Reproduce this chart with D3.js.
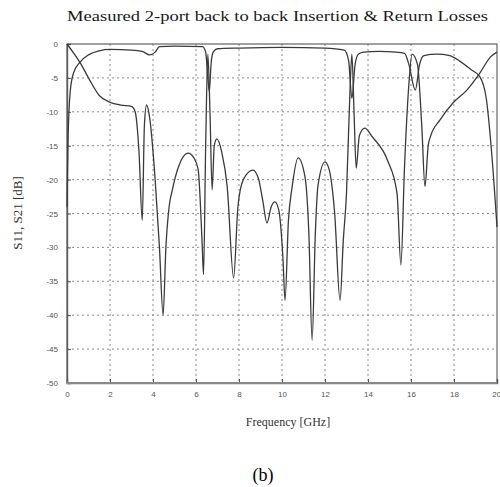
<!DOCTYPE html>
<html>
<head>
<meta charset="utf-8">
<script src="https://cdn.jsdelivr.net/npm/d3@7"></script>
<style>
  body { margin: 0; background: #fff; }
</style>
</head>
<body>
<div id="chart"></div>
<script>
const xTicks = [0, 2, 4, 6, 8, 10, 12, 14, 16, 18, 20];
const yTicks = [0, -5, -10, -15, -20, -25, -30, -35, -40, -45, -50];

// insertion loss (upper trace)
const s21Freq = [0, 0.05, 0.15, 0.3, 0.6, 1.0, 1.5, 2.0, 3.0, 3.5, 3.85, 4.1, 4.3, 5.0, 6.3, 6.45, 6.55, 6.62, 6.7, 6.8, 7.0, 8.0, 10.0, 12.0, 12.9, 13.1, 13.25, 13.4, 13.55, 13.8, 14.5, 15.3, 15.7, 15.9, 16.2, 16.4, 16.6, 17.2, 17.8, 18.3, 18.8, 19.2, 19.5, 19.75, 20];
const s21Db = [-24, -14, -7, -4.3, -2.7, -1.6, -1.0, -0.8, -0.9, -1.1, -1.6, -1.2, -0.4, -0.3, -0.4, -1.2, -5, -7, -3, -1.2, -0.7, -0.6, -0.5, -0.6, -0.9, -2.5, -8, -3, -1.5, -1.2, -1.1, -1.2, -1.4, -3, -6.8, -3, -1.7, -1.5, -1.7, -2.6, -3.8, -4.8, -8, -16, -27];

// return loss (lower trace)
const s11Freq = [0, 0.3, 0.6, 1.0, 1.5, 2.0, 2.5, 3.0, 3.17, 3.35, 3.5, 3.6, 3.7, 3.85, 4.1, 4.3, 4.47, 4.6, 4.75, 4.9, 5.2, 5.63, 5.9, 6.1, 6.28, 6.35, 6.45, 6.55, 6.65, 6.75, 6.85, 6.97, 7.2, 7.45, 7.75, 7.95, 8.2, 8.65, 8.9, 9.1, 9.3, 9.5, 9.67, 9.85, 10.05, 10.14, 10.3, 10.47, 10.75, 11.07, 11.25, 11.4, 11.55, 11.67, 12.0, 12.2, 12.45, 12.7, 12.85, 13.0, 13.15, 13.25, 13.35, 13.45, 13.6, 13.85, 14.2, 14.9, 15.35, 15.53, 15.7, 15.9, 16.05, 16.3, 16.5, 16.65, 16.8, 16.9, 17.35, 17.95, 18.6, 19.2, 19.7, 20];
const s11Db = [0, -1.3, -2.7, -5, -7.6, -8.6, -9.0, -9.2, -10, -16, -26, -12, -9, -11, -20, -30, -40, -30, -24, -21.5, -18, -16.1, -16.8, -18.5, -29, -34, -15, -1.5, -10, -21.5, -15, -14, -16, -21, -34.5, -24, -20, -18.6, -19.8, -23, -26.4, -24, -23.3, -24.5, -32, -37.8, -26, -21.1, -16.8, -19.6, -28, -43.7, -28, -21, -17.4, -18.6, -25, -37.8, -29, -22, -8, -1.5, -10, -18.3, -13.5, -12.4, -13.7, -17.1, -22, -32.6, -18, -6, -1.5, -3, -12, -21, -15, -13.7, -11.2, -8.7, -6.8, -4.3, -1.9, -1.2];

const titleText = 'Measured 2-port back to back Insertion & Return Losses';
const xLabel = 'Frequency [GHz]';
const yLabel = 'S11, S21 [dB]';
const caption = '(b)';

const W = 500, H = 487;
const plotL = 67, plotR = 497, plotT = 44, plotB = 383;
const serif = '"Liberation Serif", "DejaVu Serif", serif';
const sans = '"Liberation Sans", Arial, sans-serif';

const x = d3.scaleLinear().domain([0, 20]).range([plotL, plotR]);
const y = d3.scaleLinear().domain([-50, 0]).range([plotB, plotT]);

const svg = d3.select('#chart').append('svg')
    .attr('width', W)
    .attr('height', H)
    .style('background', '#fff');

// dotted grid
svg.append('g')
    .attr('stroke', '#8a8a8a')
    .attr('stroke-width', 1)
    .attr('stroke-dasharray', '2,3')
    .selectAll('line')
    .data(xTicks.slice(1, -1))
    .join('line')
    .attr('x1', d => x(d)).attr('x2', d => x(d))
    .attr('y1', plotT).attr('y2', plotB);

svg.append('g')
    .attr('stroke', '#8a8a8a')
    .attr('stroke-width', 1)
    .attr('stroke-dasharray', '2,3')
    .selectAll('line')
    .data(yTicks.slice(1, -1))
    .join('line')
    .attr('x1', plotL).attr('x2', plotR)
    .attr('y1', d => y(d)).attr('y2', d => y(d));

// axes, ticks pointing inward like matlab
const xAxis = svg.append('g')
    .attr('transform', `translate(0,${plotB})`)
    .call(d3.axisBottom(x).tickValues(xTicks).tickSize(-4).tickPadding(8).tickFormat(d => String(d)));
const yAxis = svg.append('g')
    .attr('transform', `translate(${plotL},0)`)
    .call(d3.axisLeft(y).tickValues(yTicks).tickSize(-4).tickPadding(9).tickFormat(d => String(d)));

for (const ax of [xAxis, yAxis]) {
    ax.select('.domain').attr('stroke', '#777').attr('stroke-width', 1.5);
    ax.selectAll('.tick line').attr('stroke', '#555');
    ax.selectAll('.tick text')
        .attr('fill', '#555')
        .style('font', `8px ${sans}`);
}
// last x label sits on the right edge of the page, keep it inside
xAxis.selectAll('.tick text')
    .filter(d => d === 20)
    .attr('text-anchor', 'end')
    .attr('dx', '0.45em');

// frame
svg.append('rect')
    .attr('x', plotL).attr('y', plotT)
    .attr('width', plotR - plotL).attr('height', plotB - plotT)
    .attr('fill', 'none')
    .attr('stroke', '#444')
    .attr('stroke-width', 1);
svg.append('line')
    .attr('x1', plotL).attr('x2', plotR)
    .attr('y1', plotB).attr('y2', plotB)
    .attr('stroke', '#888').attr('stroke-width', 2);

const line = d3.line()
    .x(d => x(d[0]))
    .y(d => y(d[1]))
    .curve(d3.curveMonotoneX);

const traces = [
    d3.zip(s21Freq, s21Db),
    d3.zip(s11Freq, s11Db)
];

svg.append('g')
    .attr('fill', 'none')
    .attr('stroke', '#3a3a3a')
    .attr('stroke-width', 1.3)
    .attr('stroke-linejoin', 'round')
    .selectAll('path')
    .data(traces)
    .join('path')
    .attr('d', line);

// texts
svg.append('text')
    .attr('x', plotL).attr('y', 21)
    .attr('textLength', 421)
    .attr('lengthAdjust', 'spacingAndGlyphs')
    .style('font', `15px ${serif}`)
    .attr('fill', '#1a1a1a')
    .text(titleText);

svg.append('text')
    .attr('x', 288).attr('y', 426)
    .attr('text-anchor', 'middle')
    .style('font', `12px ${serif}`)
    .attr('fill', '#333')
    .text(xLabel);

svg.append('text')
    .attr('transform', 'translate(22,213) rotate(-90)')
    .attr('text-anchor', 'middle')
    .style('font', `13px ${serif}`)
    .attr('fill', '#333')
    .text(yLabel);

svg.append('text')
    .attr('x', 263).attr('y', 481)
    .attr('text-anchor', 'middle')
    .style('font', `18px ${serif}`)
    .attr('fill', '#000')
    .text(caption);
</script>
</body>
</html>
